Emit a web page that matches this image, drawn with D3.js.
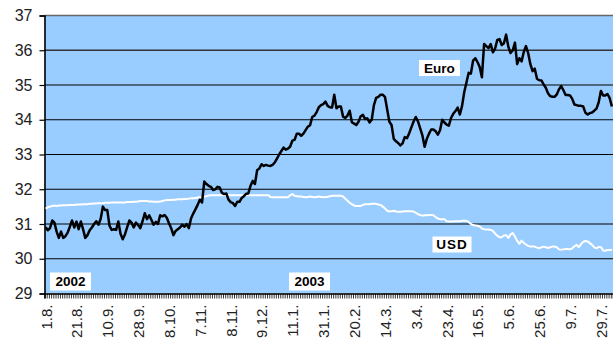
<!DOCTYPE html>
<html>
<head>
<meta charset="utf-8">
<script src="https://cdn.jsdelivr.net/npm/d3@7/dist/d3.min.js"></script>
<style>
  body { margin: 0; background: #fff; }
  svg { display: block; }
  text { font-family: Arial, "Liberation Sans", sans-serif; }
</style>
</head>
<body>
<svg id="chart" width="613" height="342"></svg>
<script>
// Daily exchange rates, RUB per unit, 1.8.2002 – early 8.2003 (trading days)
const euro = [
  30.91, 30.82, 30.88, 31.10, 31.04, 30.78, 30.60, 30.78, 30.60, 30.65,
  30.75, 30.92, 31.10, 30.90, 31.07, 30.85, 31.07, 30.85, 30.60, 30.68,
  30.82, 30.90, 31.00, 31.08, 30.98, 31.15, 31.50, 31.40, 31.40, 30.95,
  30.83, 30.85, 30.83, 31.07, 30.72, 30.56, 30.70, 30.90, 31.10, 31.04,
  30.90, 31.04, 30.97, 30.88, 31.08, 31.31, 31.14, 31.25, 31.12, 30.98,
  31.06, 31.00, 31.25, 31.22, 31.26, 31.18, 31.02, 30.88, 30.68, 30.80,
  30.85, 30.90, 30.98, 30.92, 31.00, 30.88, 31.16, 31.30, 31.42, 31.55,
  31.70, 31.62, 32.22, 32.15, 32.10, 32.07, 31.98, 32.00, 32.07, 32.05,
  31.90, 31.86, 31.88, 31.70, 31.63, 31.60, 31.52, 31.64, 31.64, 31.75,
  31.80, 31.87, 31.88, 32.10, 32.24, 32.15, 32.55, 32.60, 32.72, 32.67,
  32.70, 32.68, 32.67, 32.70, 32.77, 32.88, 33.00, 33.10, 33.20, 33.14,
  33.17, 33.23, 33.40, 33.42, 33.60, 33.60, 33.54, 33.60, 33.70, 33.80,
  33.84, 34.08, 34.12, 34.22, 34.36, 34.42, 34.45, 34.52, 34.40, 34.36,
  34.35, 34.72, 34.33, 34.38, 34.38, 34.09, 34.05, 34.12, 34.26, 33.93,
  33.89, 33.85, 33.94, 34.10, 34.14, 34.02, 34.04, 33.92, 34.00, 34.42,
  34.63, 34.66, 34.72, 34.72, 34.66, 34.30, 33.94, 33.85, 33.45, 33.38,
  33.33, 33.26, 33.32, 33.50, 33.47, 33.61, 33.78, 33.95, 34.08, 33.95,
  33.75, 33.55, 33.22, 33.45, 33.60, 33.72, 33.72, 33.67, 33.57, 33.70,
  34.00, 33.92, 33.86, 33.83, 34.05, 34.17, 34.25, 34.35, 34.15, 34.40,
  34.80, 35.07, 35.35, 35.33, 35.70, 35.77, 35.66, 35.52, 35.22, 36.18,
  36.12, 36.06, 36.18, 35.94, 36.05, 36.30, 36.32, 36.15, 36.20, 36.45,
  36.10, 35.92, 36.00, 36.22, 35.60, 35.77, 35.68, 35.95, 36.12, 35.92,
  35.60, 35.40, 35.47, 35.18, 35.14, 35.13, 35.02, 34.92, 34.76, 34.68,
  34.66, 34.66, 34.73, 34.88, 34.97, 34.85, 34.71, 34.71, 34.70, 34.60,
  34.44, 34.42, 34.40, 34.40, 34.38, 34.20, 34.15, 34.19, 34.21, 34.26,
  34.32, 34.50, 34.83, 34.70, 34.70, 34.74, 34.62, 34.38
];

const usd = [
  31.44, 31.48, 31.50, 31.52, 31.53, 31.52, 31.53, 31.53, 31.54, 31.54,
  31.54, 31.55, 31.55, 31.55, 31.56, 31.56, 31.56, 31.57, 31.57, 31.57,
  31.58, 31.58, 31.59, 31.59, 31.60, 31.60, 31.60, 31.61, 31.61, 31.61,
  31.62, 31.62, 31.62, 31.62, 31.62, 31.62, 31.62, 31.63, 31.63, 31.63,
  31.64, 31.64, 31.65, 31.66, 31.66, 31.66, 31.66, 31.65, 31.65, 31.64,
  31.64, 31.64, 31.65, 31.66, 31.68, 31.69, 31.69, 31.69, 31.70, 31.70,
  31.71, 31.71, 31.71, 31.72, 31.72, 31.73, 31.74, 31.74, 31.75, 31.76,
  31.77, 31.77, 31.79, 31.80, 31.82, 31.83, 31.83, 31.83, 31.83, 31.83,
  31.83, 31.83, 31.83, 31.83, 31.83, 31.83, 31.83, 31.83, 31.83, 31.83,
  31.83, 31.83, 31.83, 31.83, 31.83, 31.83, 31.83, 31.83, 31.83, 31.83,
  31.83, 31.83, 31.78, 31.77, 31.77, 31.77, 31.77, 31.77, 31.77, 31.77,
  31.77, 31.83, 31.86, 31.81, 31.80, 31.79, 31.79, 31.78, 31.77, 31.78,
  31.79, 31.78, 31.77, 31.78, 31.79, 31.78, 31.77, 31.78, 31.78, 31.80,
  31.81, 31.81, 31.81, 31.81, 31.81, 31.79, 31.73, 31.67, 31.61, 31.57,
  31.53, 31.52, 31.52, 31.52, 31.55, 31.57, 31.57, 31.57, 31.58, 31.58,
  31.58, 31.56, 31.55, 31.50, 31.45, 31.38, 31.36, 31.37, 31.38, 31.36,
  31.35, 31.35, 31.36, 31.37, 31.37, 31.37, 31.37, 31.36, 31.32, 31.28,
  31.26, 31.24, 31.25, 31.25, 31.26, 31.26, 31.25, 31.20, 31.16, 31.14,
  31.14, 31.14, 31.08, 31.07, 31.07, 31.07, 31.08, 31.08, 31.08, 31.09,
  31.09, 31.09, 31.06, 31.00, 30.97, 30.96, 30.95, 30.93, 30.87, 30.85,
  30.84, 30.84, 30.83, 30.80, 30.72, 30.66, 30.62, 30.62, 30.67, 30.68,
  30.60, 30.70, 30.74, 30.64, 30.52, 30.43, 30.52, 30.46, 30.41, 30.37,
  30.35, 30.35, 30.35, 30.32, 30.30, 30.33, 30.35, 30.33, 30.31, 30.33,
  30.35, 30.35, 30.33, 30.27, 30.26, 30.27, 30.28, 30.28, 30.27, 30.30,
  30.36, 30.40, 30.33, 30.42, 30.49, 30.51, 30.50, 30.45, 30.40, 30.33,
  30.30, 30.34, 30.34, 30.24, 30.23, 30.25, 30.25, 30.26
];

// Date labels shown on every 14th trading day
const dateLabels = ["1.8.", "21.8.", "10.9.", "28.9.", "8.10.", "7.11.", "8.11.",
  "9.12.", "11.1.", "31.1.", "20.2.", "14.3.", "3.4.", "23.4.", "16.5.", "5.6.",
  "25.6.", "9.7.", "29.7."];
const labelStep = 14;

const yTicks = [29, 30, 31, 32, 33, 34, 35, 36, 37];
const seriesNames = ["Euro", "USD"];
const yearNames = ["2002", "2003"];

const svg = d3.select("#chart");
const W = 613, H = 342;
const plot = { left: 44.5, right: 613, top: 15.5, bottom: 293.5 };
const n = euro.length;

const x = d3.scaleLinear().domain([-0.5, n - 0.5]).range([plot.left, plot.right]);
const y = d3.scaleLinear().domain([29, 37]).range([plot.bottom, plot.top]);

// plot background
svg.append("rect")
  .attr("x", plot.left).attr("y", plot.top)
  .attr("width", plot.right - plot.left).attr("height", plot.bottom - plot.top)
  .attr("fill", "#99CCFF");

// horizontal gridlines
svg.append("g").selectAll("line")
  .data(yTicks.filter(d => d > 29))
  .join("line")
  .attr("x1", plot.left).attr("x2", plot.right)
  .attr("y1", d => y(d)).attr("y2", d => y(d))
  .attr("stroke", d => d === 37 ? "#666" : (d === 36 ? "#333" : "#000"))
  .attr("stroke-width", d => d >= 36 ? 1.6 : 1.2);

// y axis
const yAxis = svg.append("g")
  .attr("transform", `translate(${plot.left},0)`)
  .call(d3.axisLeft(y).tickValues(yTicks).tickSize(5).tickPadding(7).tickFormat(d3.format("d")));
yAxis.select(".domain").attr("stroke", "#000").attr("stroke-width", 1.6);
yAxis.selectAll(".tick line").attr("stroke", "#000").attr("stroke-width", 1.2);
yAxis.selectAll("text").attr("font-size", 16).attr("fill", "#222")
  .style("font-family", "Arial, 'Liberation Sans', sans-serif");

// x axis: one tick per trading day
const xAxis = svg.append("g")
  .attr("transform", `translate(0,${plot.bottom})`)
  .call(d3.axisBottom(x).tickValues(d3.range(n + 1).map(i => i - 0.5)).tickSize(5).tickFormat(""));
xAxis.select(".domain").attr("stroke", "#000").attr("stroke-width", 1.6);
xAxis.selectAll(".tick line").attr("stroke", "#000").attr("stroke-width", 0.8);

// date labels
const labelAxis = svg.append("g")
  .attr("transform", `translate(0,${plot.bottom})`)
  .call(d3.axisBottom(x)
    .tickValues(dateLabels.map((_, k) => k * labelStep))
    .tickSize(0)
    .tickFormat((_, k) => dateLabels[k]));
labelAxis.select(".domain").remove();
labelAxis.selectAll("text")
  .attr("transform", "rotate(-90)")
  .attr("text-anchor", "end")
  .attr("x", -11).attr("y", 0).attr("dy", "0.36em")
  .attr("font-size", 15).attr("fill", "#222")
  .style("font-family", "Arial, 'Liberation Sans', sans-serif");

// series lines
const line = d3.line().x((d, i) => x(i)).y(d => y(d));
const clip = svg.append("clipPath").attr("id", "plotclip")
  .append("rect").attr("x", plot.left).attr("y", 0)
  .attr("width", plot.right - plot.left).attr("height", plot.bottom);

svg.append("path").datum(usd)
  .attr("clip-path", "url(#plotclip)")
  .attr("d", line).attr("fill", "none")
  .attr("stroke", "#fff").attr("stroke-width", 2).attr("stroke-linejoin", "round");

svg.append("path").datum(euro)
  .attr("clip-path", "url(#plotclip)")
  .attr("d", line).attr("fill", "none")
  .attr("stroke", "#000").attr("stroke-width", 2.5).attr("stroke-linejoin", "round");

// boxed text labels
function boxLabel(text, cx, cy, w, h, size, spacing) {
  const g = svg.append("g");
  g.append("rect").attr("x", cx - w / 2).attr("y", cy - h / 2)
    .attr("width", w).attr("height", h).attr("fill", "#fff");
  g.append("text").attr("x", cx).attr("y", cy).attr("dy", "0.36em")
    .attr("text-anchor", "middle").attr("font-weight", "bold")
    .attr("font-size", size).attr("letter-spacing", spacing || 0)
    .attr("fill", "#000").text(text);
}
boxLabel(seriesNames[0], 439.5, 68, 41, 16, 13.5);
boxLabel(seriesNames[1], 452, 244.5, 39, 16, 13.5, 1);
boxLabel(yearNames[0], 70.5, 281.5, 41, 18, 13.5);
boxLabel(yearNames[1], 309.5, 281.5, 41, 18, 13.5);
</script>
</body>
</html>
